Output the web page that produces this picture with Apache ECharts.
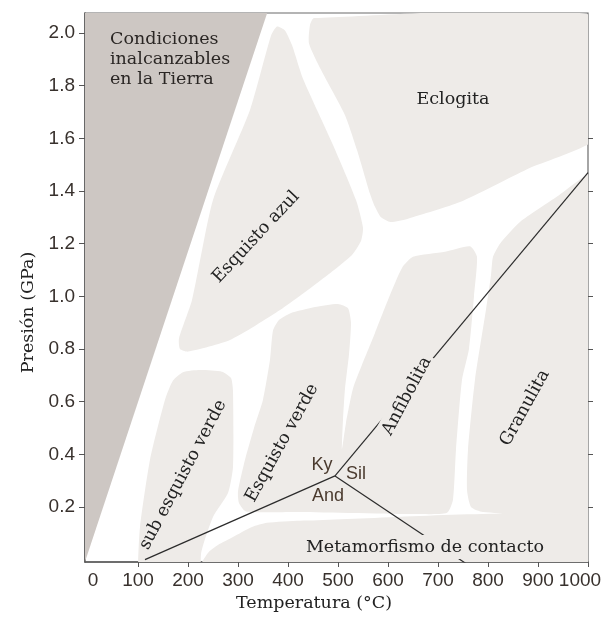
<!DOCTYPE html>
<html><head><meta charset="utf-8">
<script src="https://cdn.jsdelivr.net/npm/echarts@6/dist/echarts.min.js"></script>
<style>html,body{margin:0;padding:0;background:#fff}#c{width:608px;height:617px}</style>
</head><body><div id="c"></div>
<script>
// ---- axis ticks / labels ----
const xLabelValues = [0,100,200,300,400,500,600,700,800,900,1000];
const xTickValues = [100,200,300,400,500,600,700,800,900,1000];
const yTickValues = [0.2,0.4,0.6,0.8,1.0,1.2,1.4,1.6,1.8,2.0];
const rightTickValues = [0.2,0.4,0.6,0.8,1.0,1.2,1.4,1.6];

// ---- region outlines [Temperatura °C, Presión GPa] ----
const unreachable = [[-30,-0.1],[-22,-0.1],[380,2.2],[-30,2.2]];
const eclogita = [[444,2.03],[452,2.057],[1030,2.057],[1030,1.62],[878,1.483],[744,1.358],[640,1.295],[605,1.282],[586,1.30],[574,1.34],[564,1.39],[538,1.556],[514,1.688],[466,1.86],[442,1.96]];
const esquistoAzul = [[208,0.986],[250,1.366],[324,1.708],[366,1.99],[378,2.025],[394,2.01],[408,1.954],[430,1.826],[490,1.575],[536,1.366],[550,1.26],[546,1.21],[528,1.157],[484,1.088],[384,0.948],[284,0.834],[200,0.79],[184,0.80],[182,0.84]];
const subEsquistoVerde = [[100,-0.2],[100,-0.02],[104,0.124],[124,0.379],[154,0.607],[170,0.68],[190,0.712],[224,0.72],[268,0.714],[286,0.69],[290,0.64],[290,0.352],[280,0.253],[250,0.162],[226,0.02],[224,-0.2]];
const verdeAnfibolita = [[316,0.183],[302,0.215],[300,0.26],[314,0.379],[332,0.5],[350,0.607],[364,0.759],[370,0.87],[382,0.91],[404,0.935],[454,0.959],[500,0.971],[520,0.955],[526,0.9],[522,0.78],[514,0.65],[510,0.531],[508,0.42],[516,0.52],[530,0.65],[548,0.74],[574,0.861],[604,1.005],[628,1.108],[650,1.15],[714,1.169],[764,1.19],[778,1.15],[772,1.0],[762,0.8],[748,0.683],[736,0.417],[730,0.227],[718,0.178],[660,0.173],[420,0.181]];
const granulita = [[810,1.15],[824,1.2],[864,1.282],[934,1.373],[1030,1.484],[1030,0.181],[790,0.181],[766,0.2],[758,0.265],[760,0.417],[774,0.683],[796,0.95],[806,1.08]];
const contacto = [[226,-0.2],[226,-0.02],[242,0.03],[260,0.056],[290,0.086],[328,0.124],[358,0.14],[424,0.148],[1030,0.152],[1030,-0.2]];

// ---- reaction lines (Ky / And / Sil) ----
const kyAndLine = [[114,0.0],[494,0.318]];
const kySilLine = [[494,0.318],[1000,1.47]];
const andSilLine = [[494,0.318],[760,-0.02]];

// ---- labels ----
const labelTexts = ['Condiciones\ninalcanzables\nen la Tierra','Eclogita','Esquisto azul','sub esquisto verde','Esquisto verde','Anfibolita','Granulita','Metamorfismo de contacto','Ky','Sil','And'];
const labelT = [44,730,336,190,388,638,874,674,468,536,480];
const labelP = [2.015,1.746,1.225,0.322,0.443,0.621,0.576,0.048,0.360,0.325,0.242];
const labelAngle = [0,0,47,62,61,62,61,0,0,0,0];
const labelKind = ['block','serif','serif','serif','serif','serifBg','serif','serifBg','sans','sans','sans'];

const LIGHT = '#eeebe8', DARK = '#cdc7c3';

function polygonSeries(name, pts, color, smooth) {
  return {
    type:'custom', name, coordinateSystem:'cartesian2d', clip:true, z:1, silent:true,
    data: pts,
    renderItem: (params, api) => {
      if (params.dataIndex !== 0) return null;
      return { type:'polygon', shape:{ points: pts.map(p => api.coord(p)), smooth: smooth }, style:{ fill: color } };
    }
  };
}
function lineSeries(pts) {
  return { type:'line', data: pts, symbol:'none', clip:true, z:3, silent:true,
    lineStyle:{ color:'#2b2b2b', width:1.2 } };
}
const labelData = labelTexts.map((t,i) => [labelT[i], labelP[i], i]);
const labelSeries = {
  type:'custom', coordinateSystem:'cartesian2d', clip:false, z:5, silent:true,
  data: labelData,
  renderItem: (params, api) => {
    const i = api.value(2);
    const p = api.coord([api.value(0), api.value(1)]);
    const kind = labelKind[i];
    const style = { text: labelTexts[i], fill:'#222', fontFamily:'DejaVu Serif', fontSize:17.5, align:'center', verticalAlign:'middle' };
    if (kind === 'block') { style.align = 'left'; style.verticalAlign = 'top'; style.lineHeight = 20; style.fill = '#2a2624'; }
    if (kind === 'serifBg') { style.backgroundColor = LIGHT; style.padding = [3,3]; }
    if (kind === 'sans') { style.fontFamily = 'Liberation Sans'; style.fontSize = 18; style.fill = '#4a3a2e'; }
    return { type:'text', x:p[0], y:p[1], rotation: labelAngle[i]*Math.PI/180, style };
  }
};

const tickFont = { fontFamily:'Liberation Sans', fontSize:19, color:'#38312d' };
const chart = echarts.init(document.getElementById('c'), null, { renderer:'canvas' });
chart.setOption({
  animation:false,
  backgroundColor:'#fff',
  grid:{ left:85, right:20, top:13, bottom:55, show:true, borderColor:'#6b6b6b', borderWidth:1.2, containLabel:false, outerBoundsMode:'none' },
  xAxis:{
    type:'value', min:-6, max:1000,
    axisLine:{ show:true, onZero:false, lineStyle:{ color:'#555', width:1.5 } },
    axisTick:{ show:true, customValues:xTickValues, length:5, lineStyle:{ color:'#555' } },
    axisLabel:{ customValues:xLabelValues, margin:9, ...tickFont,
      formatter: v => v === 1000 ? '{last|1000}' : (v === 0 ? '{first|0}' : String(v)),
      rich:{ last:{ ...tickFont, padding:[0,16,0,0] }, first:{ ...tickFont, padding:[0,0,0,10] } } },
    splitLine:{ show:false },
    name:'Temperatura (°C)', nameLocation:'middle', nameGap:31,
    nameTextStyle:{ fontFamily:'DejaVu Serif', fontSize:17.5, color:'#222', padding:[0,45,0,0] }
  },
  yAxis:[{
    type:'value', min:-0.009, max:2.076,
    axisLine:{ show:true, onZero:false, lineStyle:{ color:'#555', width:1.5 } },
    axisTick:{ show:true, customValues:yTickValues, length:6, lineStyle:{ color:'#555' } },
    axisLabel:{ customValues:yTickValues, margin:10, ...tickFont, formatter: v => v.toFixed(1) },
    splitLine:{ show:false },
    name:'Presión (GPa)', nameLocation:'middle', nameGap:44,
    nameTextStyle:{ fontFamily:'DejaVu Serif', fontSize:17.5, color:'#222', padding:[0,50,0,0] }
  },{
    type:'value', min:-0.009, max:2.076, position:'right',
    axisLine:{ show:false, onZero:false },
    axisTick:{ show:true, customValues:rightTickValues, length:5, lineStyle:{ color:'#555' } },
    axisLabel:{ show:false }, splitLine:{ show:false }
  }],
  series:[
    polygonSeries('Condiciones inalcanzables', unreachable, DARK, 0),
    polygonSeries('Eclogita', eclogita, LIGHT, 0.2),
    polygonSeries('Esquisto azul', esquistoAzul, LIGHT, 0.2),
    polygonSeries('sub esquisto verde', subEsquistoVerde, LIGHT, 0.2),
    polygonSeries('Esquisto verde / Anfibolita', verdeAnfibolita, LIGHT, 0.2),
    polygonSeries('Granulita', granulita, LIGHT, 0.2),
    polygonSeries('Metamorfismo de contacto', contacto, LIGHT, 0.2),
    lineSeries(kyAndLine), lineSeries(kySilLine), lineSeries(andSilLine),
    labelSeries
  ]
});
</script></body></html>
